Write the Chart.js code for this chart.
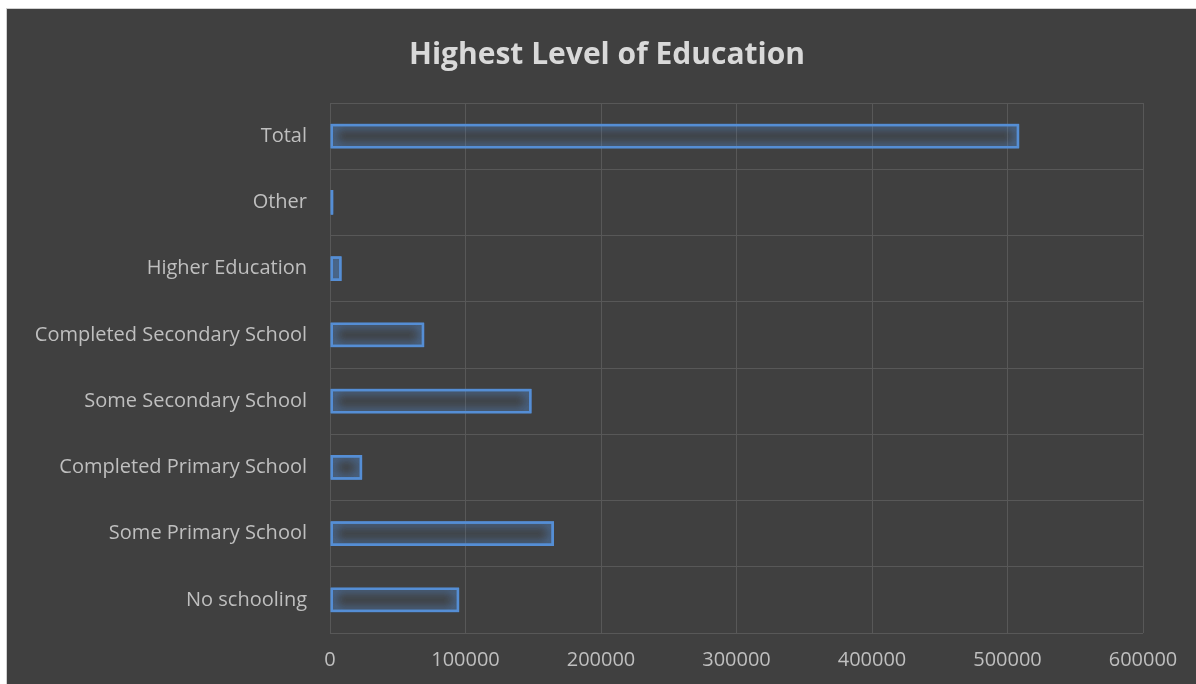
<!DOCTYPE html>
<html>
<head>
<meta charset="utf-8">
<script src="https://cdn.jsdelivr.net/npm/chart.js@4/dist/chart.umd.min.js"></script>
<style>
  html, body { margin: 0; padding: 0; background: #ffffff; }
  #panel {
    position: absolute; left: 6px; top: 8px; width: 1190px; height: 676px;
    background: #404040; border-left: 1px solid #d0d0d0; border-top: 1px solid #d0d0d0;
    box-sizing: border-box;
  }
  #chart { display: block; }
</style>
</head>
<body>
<div id="panel"><canvas id="chart" width="1189" height="675"></canvas></div>
<script>
const categories = ['Total', 'Other', 'Higher Education', 'Completed Secondary School',
  'Some Secondary School', 'Completed Primary School', 'Some Primary School', 'No schooling'];
const counts = [508700, 2500, 8600, 69600, 148800, 23800, 165300, 95400];
const xTicks = [0, 100000, 200000, 300000, 400000, 500000, 600000];

const gridColor = '#585858';
const textColor = '#bfbfbf';

// soft blue glow around the bar outlines (bars are stroked twice with a shadow)
const glow = {
  id: 'glow',
  beforeDatasetsDraw(chart) {
    const ctx = chart.ctx;
    ctx.save();
    ctx.shadowColor = 'rgba(84,140,210,1)';
    ctx.shadowBlur = 11;
  },
  afterDatasetsDraw(chart) {
    const ctx = chart.ctx;
    chart.getDatasetMeta(0).data.forEach(bar => bar.draw(ctx));
    ctx.restore();
  }
};

const ctx = document.getElementById('chart').getContext('2d');
new Chart(ctx, {
  type: 'bar',
  data: {
    labels: categories,
    datasets: [{
      data: counts,
      backgroundColor: 'rgba(0,0,0,0)',
      borderColor: '#558ed5',
      borderWidth: 2.5,
      borderSkipped: false,
      categoryPercentage: 1,
      barPercentage: 0.37
    }]
  },
  options: {
    responsive: false,
    animation: false,
    indexAxis: 'y',
    layout: { padding: { left: 11, right: 0, top: 0, bottom: 0 } },
    scales: {
      x: {
        min: 0,
        max: 600000,
        afterBuildTicks: (scale) => { scale.ticks = xTicks.map(v => ({ value: v })); },
        afterFit: (scale) => { scale.height = 51; },
        grid: { color: gridColor, lineWidth: 1, drawTicks: false },
        border: { display: false },
        ticks: {
          color: textColor,
          padding: 15,
          font: { family: 'Open Sans', size: 20 },
          callback: (v) => String(v)
        }
      },
      y: {
        afterFit: (scale) => { scale.width = 312; },
        grid: { color: gridColor, lineWidth: 1, drawTicks: false },
        border: { color: gridColor },
        ticks: {
          color: textColor,
          padding: 23,
          font: { family: 'Open Sans', size: 20 }
        }
      },
      // empty strip on the right so the plot ends where the reference does
      yRight: {
        type: 'category',
        position: 'right',
        afterFit: (scale) => { scale.width = 53; },
        grid: { display: false },
        border: { display: false },
        ticks: { display: false }
      }
    },
    plugins: {
      legend: { display: false },
      tooltip: { enabled: false },
      title: {
        display: true,
        text: 'Highest Level of Education',
        color: '#d9d9d9',
        font: { family: 'Open Sans', size: 30, weight: 'bold' },
        padding: { top: 28, bottom: 30 }
      }
    }
  },
  plugins: [glow]
});
</script>
</body>
</html>
